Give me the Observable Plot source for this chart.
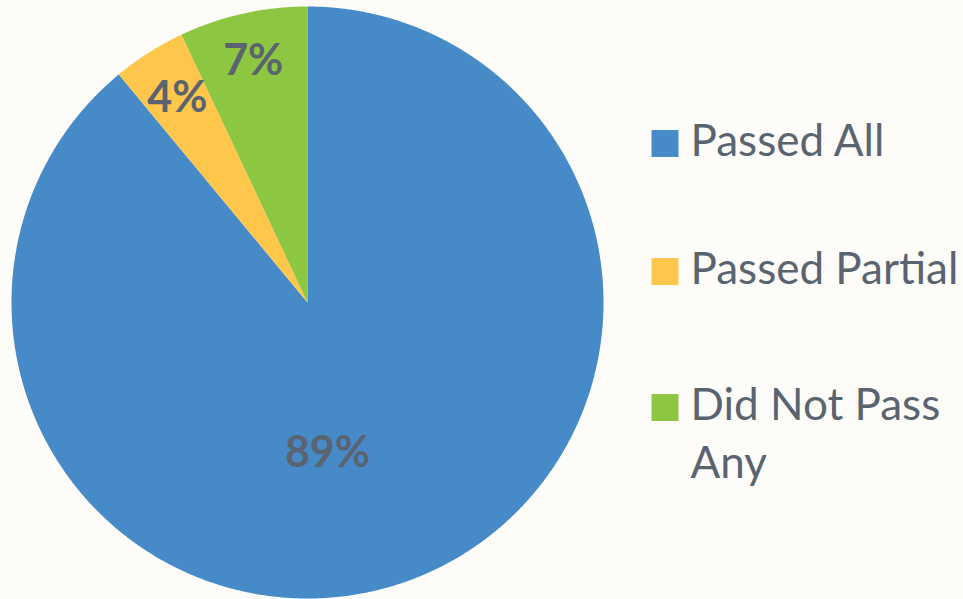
<!DOCTYPE html>
<html>
<head>
<meta charset="utf-8">
<script src="https://cdn.jsdelivr.net/npm/d3@7"></script>
<script src="https://cdn.jsdelivr.net/npm/@observablehq/plot@0.6"></script>
<style>
  html, body { margin: 0; padding: 0; background: #fdfcf9; }
  #chart { width: 963px; height: 599px; }
</style>
</head>
<body>
<div id="chart"></div>
<script>
// ---- data ----
const categories = ["Passed All", "Passed Partial", "Did Not Pass Any"];
const values = [89, 4, 7];
const labels = ["89%", "4%", "7%"];
const legendLabels = ["Passed All", "Passed Partial", "Did Not Pass\nAny"];
const colors = ["#468ac8", "#fec64a", "#8dc641"];

// ---- layout ----
const W = 963, H = 599;
const cx = 307, cy = 302, R = 296;

const arcs = d3.pie().sort(null).value(d => d)(values);

// polygon points for each slice (center -> arc -> center)
const slicePts = [];
arcs.forEach((a, i) => {
  const n = Math.max(4, Math.ceil((a.endAngle - a.startAngle) / 0.005));
  slicePts.push({cat: categories[i], px: cx, py: cy});
  for (let k = 0; k <= n; k++) {
    const t = a.startAngle + (a.endAngle - a.startAngle) * k / n;
    slicePts.push({cat: categories[i], px: cx + R * Math.sin(t), py: cy - R * Math.cos(t)});
  }
  slicePts.push({cat: categories[i], px: cx, py: cy});
});

// label positions: small slices at centroid-like radius, large slice placed lower (like Excel best fit)
const labelPlace = [{angle: 172.4, rf: 0.51}, {angle: null, rf: 0.82}, {angle: null, rf: 0.84}];
const labelData = arcs.map((a, i) => {
  const ang = labelPlace[i].angle != null ? labelPlace[i].angle * Math.PI / 180 : (a.startAngle + a.endAngle) / 2;
  const r = R * labelPlace[i].rf;
  return {text: labels[i], px: cx + r * Math.sin(ang), py: cy - r * Math.cos(ang)};
});

const legendRows = [143, 271, 407];
const lineStep = 58;
const legendData = categories.map((c, i) => ({cat: c, py: legendRows[i]}));
const legendLines = [];
legendLabels.forEach((t, i) => t.split("\n").forEach((s, j) =>
  legendLines.push({text: s, py: legendRows[i] + j * lineStep})));

const chart = Plot.plot({
  width: W, height: H,
  margin: 0,
  style: {background: "#fdfcf9", overflow: "visible"},
  x: {domain: [0, W], range: [0, W], axis: null},
  y: {domain: [0, H], range: [0, H], axis: null},
  color: {domain: categories, range: colors},
  marks: [
    Plot.line(slicePts, {x: "px", y: "py", z: "cat", fill: "cat", stroke: "none", curve: "linear"}),
    Plot.text(labelData, {x: "px", y: "py", text: "text", fill: "#5a6470", dy: 1,
      fontSize: 43, fontWeight: "bold", fontFamily: "Lato, 'Open Sans', sans-serif"}),
    Plot.dot(legendData, {x: () => 664.5, y: "py", symbol: "square", r: 15.2, fill: "cat", stroke: "none"}),
    Plot.text(legendLines, {x: () => 690, y: "py", text: "text", textAnchor: "start", lineAnchor: "middle", dy: -2,
      fill: "#5a6470", fontSize: 44, fontFamily: "Lato, 'Open Sans', sans-serif"})
  ]
});
document.getElementById("chart").appendChild(chart);
</script>
</body>
</html>
